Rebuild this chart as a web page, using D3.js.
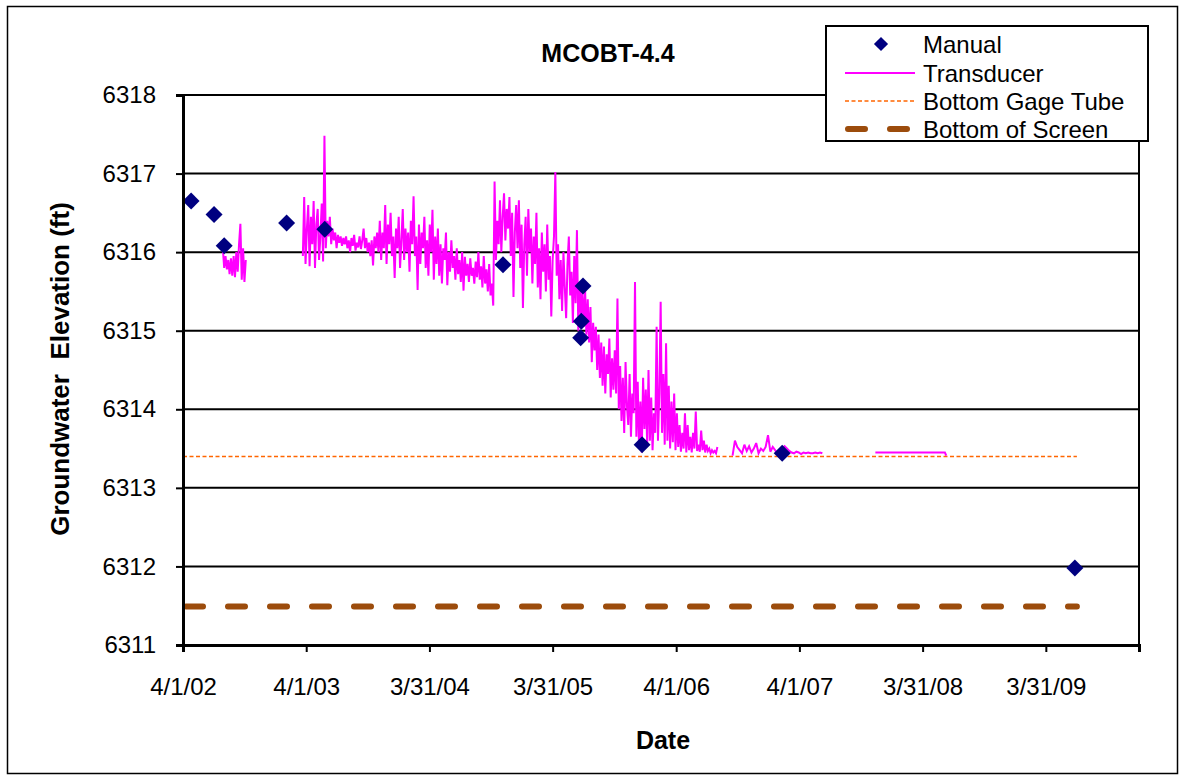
<!DOCTYPE html>
<html>
<head>
<meta charset="utf-8">
<script src="https://cdn.jsdelivr.net/npm/d3@7"></script>
<style>
  html, body { margin: 0; padding: 0; background: #fff; }
  svg { display: block; }
  text { font-family: Arial, "Liberation Sans", sans-serif; fill: #000; }
</style>
</head>
<body>
<svg id="chart" width="1185" height="780"></svg>
<script>
// ---------- DATA ----------
const chartTitle = "MCOBT-4.4";
const xAxisTitle = "Date";
const yAxisTitle = "Groundwater  Elevation (ft)";

const xDomain = ["2002-04-01", "2010-01-01"];
const yDomain = [6311, 6318];
const yTickValues = [6311, 6312, 6313, 6314, 6315, 6316, 6317, 6318];
const xTickLabels = ["4/1/02", "4/1/03", "3/31/04", "3/31/05", "4/1/06", "4/1/07", "3/31/08", "3/31/09"];

const legendLabels = ["Manual", "Transducer", "Bottom Gage Tube", "Bottom of Screen"];

// Manual measurements
const manualDates = ["2002-04-25", "2002-07-02", "2002-08-01", "2003-02-02", "2003-05-26",
  "2004-11-04", "2005-06-29", "2005-06-24", "2005-06-22", "2005-12-21", "2007-02-09", "2009-06-25"];
const manualValues = [6316.65, 6316.48, 6316.08, 6316.37, 6316.29,
  6315.84, 6315.57, 6315.12, 6314.91, 6313.55, 6313.44, 6311.98];

// Reference levels
const refDates = ["2002-04-01", "2009-07-01"];
const gageTubeLevel = 6313.40;
const screenBottomLevel = 6311.49;

// Transducer record (regular readings, segments separated by data gaps)
const tdSeg1Start = "2002-07-28"; const tdSeg1StepDays = 4;
const tdSeg1Values = [6316.05, 6315.80, 6315.95, 6315.78, 6315.90, 6315.72, 6315.92, 6315.70, 6315.95,
  6315.68, 6316.00, 6315.75, 6316.10, 6316.36, 6315.65, 6316.05, 6315.62, 6315.90];

const tdSeg2Start = "2003-03-22"; const tdSeg2StepDays = 4;
const tdSeg2Values = [
  6315.95, 6316.70, 6315.85, 6316.30, 6316.60, 6315.82, 6316.45, 6316.10, 6316.65, 6315.80,
  6316.35, 6316.55, 6315.90, 6316.20, 6316.62, 6315.88, 6317.48,
  6316.05, 6316.40, 6316.20, 6316.45, 6316.10, 6316.30, 6316.15, 6316.25, 6316.05, 6316.22,
  6316.12, 6316.20, 6316.08, 6316.18, 6316.10,
  6316.20, 6316.05, 6316.15, 6316.00, 6316.18, 6316.08, 6316.22, 6316.02, 6316.12, 6316.06,
  6316.20, 6316.04, 6316.15, 6316.30, 6316.05, 6316.18, 6316.00, 6316.12, 6315.95, 6316.15,
  6315.83, 6316.20, 6316.05, 6316.25, 6316.00, 6316.40,
  6315.90, 6316.25, 6316.05, 6316.60, 6315.85, 6316.35, 6316.10, 6316.50, 6315.95, 6316.20,
  6315.67, 6316.30, 6316.05, 6316.45, 6315.80, 6316.15, 6316.55, 6315.90, 6316.30, 6316.00,
  6316.25, 6315.75, 6316.40, 6316.10, 6316.71, 6315.95, 6316.20, 6315.52, 6316.35, 6315.85,
  6316.25, 6316.05, 6316.45, 6315.80, 6316.15, 6315.70, 6316.35, 6316.00, 6316.54, 6315.65,
  6316.20,
  6315.85, 6316.30, 6315.70, 6316.10, 6315.60, 6316.05, 6315.90, 6316.25, 6315.58, 6316.00,
  6315.75, 6316.15, 6315.80, 6315.95, 6315.65, 6316.05, 6315.72, 6315.90, 6315.62, 6316.00,
  6315.51, 6315.94, 6315.70, 6315.85, 6315.62, 6315.92, 6315.70, 6315.80, 6315.60, 6315.88,
  6315.68, 6316.00, 6315.65, 6315.82, 6315.55, 6315.95, 6315.60, 6315.78, 6315.50, 6315.85,
  6315.45, 6315.60, 6315.32,
  6316.90, 6315.90, 6316.40, 6316.10, 6316.66, 6316.00, 6316.45, 6316.75, 6316.15, 6316.55,
  6316.30, 6316.70, 6315.95, 6316.50, 6315.43, 6316.25, 6316.60, 6316.05, 6316.66, 6315.80,
  6316.35, 6315.29, 6316.10, 6316.45, 6315.70, 6316.55, 6316.00, 6316.30, 6315.60, 6316.20,
  6315.85, 6316.50, 6315.55, 6316.05, 6315.40, 6316.25, 6315.75, 6316.10, 6315.50, 6316.35,
  6315.65, 6315.95, 6315.18, 6315.90, 6316.20, 6317.02,
  6315.70, 6316.10, 6315.40, 6315.90, 6315.25, 6316.00, 6315.55, 6315.16, 6315.85, 6316.20,
  6315.45, 6315.75, 6315.10, 6315.95, 6315.35, 6316.28, 6315.00, 6315.60, 6315.20, 6315.50,
  6315.05, 6315.55, 6314.95, 6315.40, 6314.85, 6315.30, 6314.60, 6315.10, 6314.75, 6315.05,
  6314.50, 6314.95, 6314.40, 6314.85, 6314.30, 6314.80, 6314.20, 6314.70, 6314.45, 6314.90,
  6314.15, 6314.65, 6314.25, 6314.75, 6314.20, 6315.41,
  6314.00, 6314.55, 6313.85, 6314.40, 6313.70, 6314.60, 6314.05, 6313.80, 6314.45, 6313.65,
  6314.20, 6313.95, 6315.62,
  6313.65, 6314.35, 6313.50, 6314.10, 6313.45, 6314.40, 6313.75, 6314.25, 6313.55, 6314.50,
  6313.60, 6314.15, 6313.48, 6313.95, 6313.70, 6315.05, 6313.60, 6314.20,
  6315.37, 6313.70, 6314.45, 6313.55, 6314.84, 6313.60, 6314.30, 6313.50, 6314.10, 6313.58,
  6314.20, 6313.48, 6313.95, 6313.52, 6313.80, 6313.46, 6313.70,
  6313.50, 6313.95, 6313.45, 6313.80, 6313.48, 6313.65, 6313.45, 6313.70, 6313.50, 6313.97,
  6313.47,
  6313.55, 6313.46, 6313.73, 6313.48, 6313.60, 6313.45, 6313.55, 6313.47, 6313.50, 6313.44,
  6313.48, 6313.45, 6313.47, 6313.44, 6313.52];

const tdSeg3Start = "2006-09-15"; const tdSeg3StepDays = 7;
const tdSeg3Values = [6313.41, 6313.60, 6313.52, 6313.48, 6313.44, 6313.55, 6313.47, 6313.53, 6313.45, 6313.50,
  6313.57, 6313.44, 6313.50, 6313.47, 6313.52, 6313.67, 6313.46, 6313.52, 6313.48, 6313.44,
  6313.46, 6313.50, 6313.53, 6313.50, 6313.47, 6313.45, 6313.44, 6313.46, 6313.45, 6313.43,
  6313.45, 6313.44, 6313.45, 6313.44, 6313.44, 6313.45, 6313.44, 6313.45, 6313.44];

const tdSeg4Dates = ["2007-11-12", "2008-06-05", "2008-06-09"];
const tdSeg4Values = [6313.45, 6313.45, 6313.41];

// ---------- CHART ----------
const parseISO = d3.timeParse("%Y-%m-%d");
const parseTick = d3.timeParse("%m/%d/%y");
const svg = d3.select("#chart");

const plot = { left: 183, right: 1139, top: 95, bottom: 645 };

const x = d3.scaleTime().domain(xDomain.map(parseISO)).range([plot.left, plot.right]);
const y = d3.scaleLinear().domain(yDomain).range([plot.bottom, plot.top]);

// outer chart border
svg.append("rect").attr("x", 7.5).attr("y", 6.5).attr("width", 1170).attr("height", 767)
  .attr("fill", "#fff").attr("stroke", "#000").attr("stroke-width", 1.5);

// gridlines
svg.append("g").selectAll("line").data(yTickValues.filter(v => v !== yDomain[0])).join("line")
  .attr("x1", plot.left).attr("x2", plot.right)
  .attr("y1", d => y(d)).attr("y2", d => y(d))
  .attr("stroke", "#000").attr("stroke-width", 2);

// right plot border
svg.append("line").attr("x1", plot.right).attr("x2", plot.right)
  .attr("y1", plot.top).attr("y2", plot.bottom).attr("stroke", "#000").attr("stroke-width", 2);

// reference lines
const refX = refDates.map(parseISO);
svg.append("line")
  .attr("x1", x(refX[0])).attr("x2", x(refX[1]))
  .attr("y1", y(gageTubeLevel)).attr("y2", y(gageTubeLevel))
  .attr("stroke", "#FF6600").attr("stroke-width", 1.5).attr("stroke-dasharray", "4,2.5");
svg.append("line")
  .attr("x1", x(refX[0]) + 3).attr("x2", x(refX[1]))
  .attr("y1", y(screenBottomLevel)).attr("y2", y(screenBottomLevel))
  .attr("stroke", "#9C4C0C").attr("stroke-width", 6).attr("stroke-linecap", "round")
  .attr("stroke-dasharray", "17,25");

// transducer
function seg(startStr, step, values) {
  const s = parseISO(startStr);
  return values.map((v, i) => ({ d: d3.timeDay.offset(s, i * step), v }));
}
const tdSegments = [
  seg(tdSeg1Start, tdSeg1StepDays, tdSeg1Values),
  seg(tdSeg2Start, tdSeg2StepDays, tdSeg2Values),
  seg(tdSeg3Start, tdSeg3StepDays, tdSeg3Values),
  tdSeg4Dates.map((s, i) => ({ d: parseISO(s), v: tdSeg4Values[i] }))
];
const line = d3.line().x(p => x(p.d)).y(p => y(p.v));
svg.append("g").selectAll("path").data(tdSegments).join("path")
  .attr("d", line).attr("fill", "none").attr("stroke", "#FF00FF")
  .attr("stroke-width", 2).attr("stroke-linejoin", "miter").attr("stroke-miterlimit", 3);

// manual diamonds
const diamond = d3.symbol().type(d3.symbolSquare).size(144);
svg.append("g").selectAll("path").data(manualDates.map((s, i) => ({ d: parseISO(s), v: manualValues[i] })))
  .join("path")
  .attr("d", diamond)
  .attr("transform", p => `translate(${x(p.d)},${y(p.v)}) rotate(45)`)
  .attr("fill", "#000080");

// axes
const yAxis = d3.axisLeft(y).tickValues(yTickValues).tickSize(7).tickPadding(20).tickFormat(d3.format("d"));
const gy = svg.append("g").attr("transform", `translate(${plot.left},0)`).call(yAxis);
gy.select(".domain").attr("stroke", "#000").attr("stroke-width", 3);
gy.selectAll(".tick line").attr("stroke", "#000").attr("stroke-width", 2);
gy.selectAll(".tick text").attr("font-size", 24).attr("font-family", "Arial, 'Liberation Sans', sans-serif").attr("fill", "#000");

const xTickDates = xTickLabels.map(parseTick);
const xAxis = d3.axisBottom(x).tickValues(xTickDates).tickSize(7).tickPadding(26)
  .tickFormat((d, i) => xTickLabels[i]);
const gx = svg.append("g").attr("transform", `translate(0,${plot.bottom})`).call(xAxis);
gx.select(".domain").attr("stroke", "#000").attr("stroke-width", 3);
gx.selectAll(".tick line").attr("stroke", "#000").attr("stroke-width", 2);
gx.selectAll(".tick text").attr("font-size", 24).attr("font-family", "Arial, 'Liberation Sans', sans-serif").attr("fill", "#000");

// titles
svg.append("text").attr("x", 608).attr("y", 62).attr("text-anchor", "middle")
  .attr("font-size", 25).attr("font-weight", "bold").text(chartTitle);
svg.append("text").attr("x", 663).attr("y", 749).attr("text-anchor", "middle")
  .attr("font-size", 25).attr("font-weight", "bold").text(xAxisTitle);
svg.append("text").attr("transform", "translate(69,369) rotate(-90)").attr("text-anchor", "middle")
  .attr("font-size", 26).attr("font-weight", "bold").attr("xml:space", "preserve")
  .style("white-space", "pre").text(yAxisTitle);

// legend
const lg = svg.append("g");
lg.append("rect").attr("x", 826).attr("y", 26).attr("width", 322).attr("height", 115)
  .attr("fill", "#fff").attr("stroke", "#000").attr("stroke-width", 2);
const rowY = [44, 73, 101, 129];
lg.append("path").attr("d", d3.symbol().type(d3.symbolSquare).size(100))
  .attr("transform", `translate(881,${rowY[0]}) rotate(45)`).attr("fill", "#000080");
lg.append("line").attr("x1", 845).attr("x2", 915).attr("y1", rowY[1]).attr("y2", rowY[1])
  .attr("stroke", "#FF00FF").attr("stroke-width", 1.8);
lg.append("line").attr("x1", 845).attr("x2", 915).attr("y1", rowY[2]).attr("y2", rowY[2])
  .attr("stroke", "#FF6600").attr("stroke-width", 1.5).attr("stroke-dasharray", "4,2.5");
lg.append("line").attr("x1", 848).attr("x2", 912).attr("y1", rowY[3]).attr("y2", rowY[3])
  .attr("stroke", "#9C4C0C").attr("stroke-width", 6).attr("stroke-linecap", "round")
  .attr("stroke-dasharray", "17,25");
lg.selectAll("text.lab").data(legendLabels).join("text").attr("class", "lab")
  .attr("x", 923).attr("y", (d, i) => rowY[i]).attr("dy", "0.36em")
  .attr("font-size", 24).text(d => d);
</script>
</body>
</html>
